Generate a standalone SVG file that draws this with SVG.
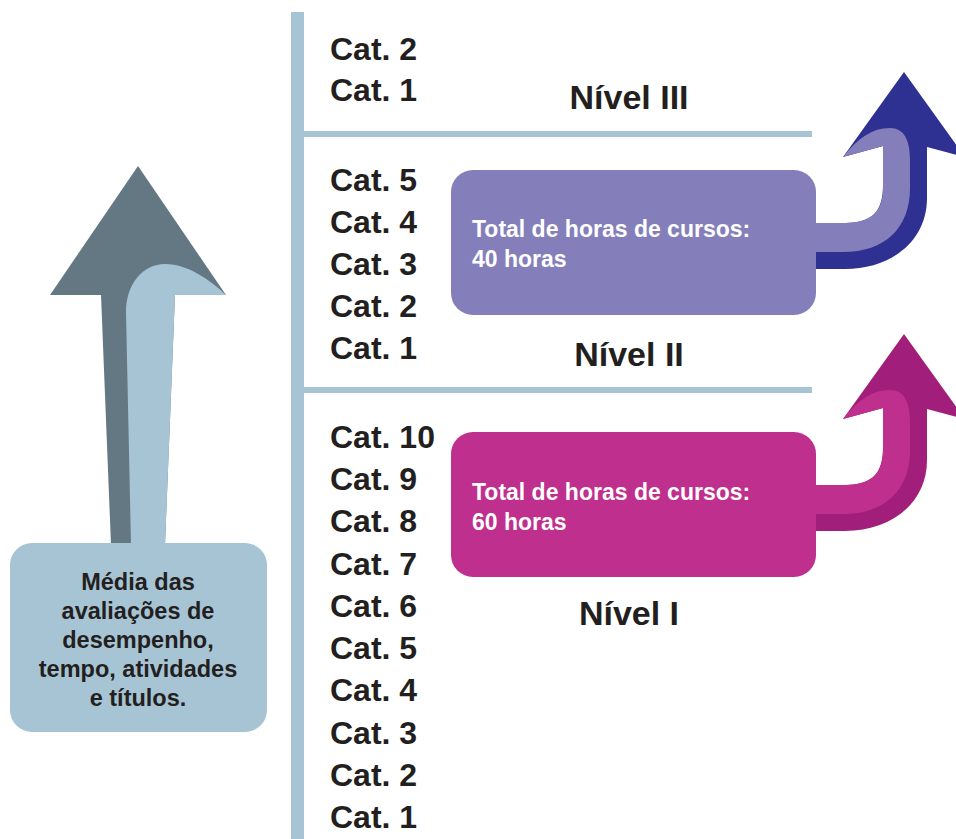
<svg xmlns="http://www.w3.org/2000/svg" width="956" height="839" viewBox="0 0 956 839">
  <style>
    .cat { font-family: "Liberation Sans", Arial, sans-serif; font-weight: bold; font-size: 32px; fill: #231f20; }
    .nivel { font-family: "Liberation Sans", Arial, sans-serif; font-weight: bold; font-size: 34px; fill: #231f20; text-anchor: middle; }
    .boxtxt { font-family: "Liberation Sans", Arial, sans-serif; font-weight: bold; font-size: 23px; fill: #ffffff; }
    .lefttxt { font-family: "Liberation Sans", Arial, sans-serif; font-weight: bold; font-size: 23.5px; fill: #231f20; text-anchor: middle; }
    .rule { fill: #a7c4d5; }
  </style>

  <rect width="956" height="839" fill="#ffffff"/>

  <!-- scale rules -->
  <g id="scale">
    <rect class="rule" x="291" y="12" width="13" height="827"/>
    <rect class="rule" x="303" y="131" width="509" height="6"/>
    <rect class="rule" x="303" y="387" width="509" height="6"/>
  </g>

  <!-- connectors (arrows) -->
  <g id="connectors">
    <g id="arrow-left">
      <path fill="#647884" d="M138,166 L226,295 L175,295 L165,545 L111,545 L101,295 L50,295 Z"/>
      <path fill="#a7c4d5" d="M131,545 L126,312 C126,284 143,264 165,264 C188,264 210,280 226,295 L175,295 L165,545 Z"/>
    </g>
    <g id="arrow-nivel2">
      <path fill="#2e3192" d="M816,223 L845,223 C872,223 883,212 883,185 L883,146 L843,157 L904,72 L965,157 L927,147 L927,198 C927,242 890,269 845,269 L816,269 Z"/>
      <path fill="#847fba" d="M816,223 L843,223 C870,223 883,213 883,188 L883,146 L843,157 C858,138 872,128 890,128 C904,128 910,140 910,160 L910,188 C910,228 885,252 843,252 L816,252 Z"/>
    </g>
    <g id="arrow-nivel1" transform="translate(0,262)">
      <path fill="#a11f7a" d="M816,223 L845,223 C872,223 883,212 883,185 L883,146 L843,157 L904,72 L965,157 L927,147 L927,198 C927,242 890,269 845,269 L816,269 Z"/>
      <path fill="#bf2f8e" d="M816,223 L843,223 C870,223 883,213 883,188 L883,146 L843,157 C858,138 872,128 890,128 C904,128 910,140 910,160 L910,188 C910,228 885,252 843,252 L816,252 Z"/>
    </g>
  </g>

  <!-- left box -->
  <g id="node-media">
    <rect x="10" y="543" width="257" height="189" rx="22" fill="#a7c4d5"/>
    <text class="lefttxt" x="138" y="590">Média das</text>
    <text class="lefttxt" x="138" y="619">avaliações de</text>
    <text class="lefttxt" x="138" y="648">desempenho,</text>
    <text class="lefttxt" x="138" y="677">tempo, atividades</text>
    <text class="lefttxt" x="138" y="706">e títulos.</text>
  </g>

  <!-- Nível III -->
  <g id="node-nivel3">
    <text class="cat" x="330" y="60">Cat. 2</text>
    <text class="cat" x="330" y="101">Cat. 1</text>
    <text class="nivel" x="629" y="109">Nível III</text>
  </g>

  <!-- Nível II -->
  <g id="node-nivel2">
    <text class="cat" x="330" y="191">Cat. 5</text>
    <text class="cat" x="330" y="233">Cat. 4</text>
    <text class="cat" x="330" y="275">Cat. 3</text>
    <text class="cat" x="330" y="317">Cat. 2</text>
    <text class="cat" x="330" y="359">Cat. 1</text>
    <text class="nivel" x="629" y="366">Nível II</text>
  </g>
  <g id="node-horas40">
    <rect x="451" y="170" width="365" height="145" rx="22" fill="#847fba"/>
    <text class="boxtxt" x="472" y="237">Total de horas de cursos:</text>
    <text class="boxtxt" x="472" y="267">40 horas</text>
  </g>

  <!-- Nível I -->
  <g id="node-nivel1">
    <text class="cat" x="330" y="448">Cat. 10</text>
    <text class="cat" x="330" y="490">Cat. 9</text>
    <text class="cat" x="330" y="532">Cat. 8</text>
    <text class="cat" x="330" y="575">Cat. 7</text>
    <text class="cat" x="330" y="617">Cat. 6</text>
    <text class="cat" x="330" y="659">Cat. 5</text>
    <text class="cat" x="330" y="701">Cat. 4</text>
    <text class="cat" x="330" y="744">Cat. 3</text>
    <text class="cat" x="330" y="786">Cat. 2</text>
    <text class="cat" x="330" y="828">Cat. 1</text>
    <text class="nivel" x="629" y="625">Nível I</text>
  </g>
  <g id="node-horas60">
    <rect x="451" y="432" width="365" height="145" rx="22" fill="#bf2f8e"/>
    <text class="boxtxt" x="472" y="500">Total de horas de cursos:</text>
    <text class="boxtxt" x="472" y="530">60 horas</text>
  </g>
</svg>
